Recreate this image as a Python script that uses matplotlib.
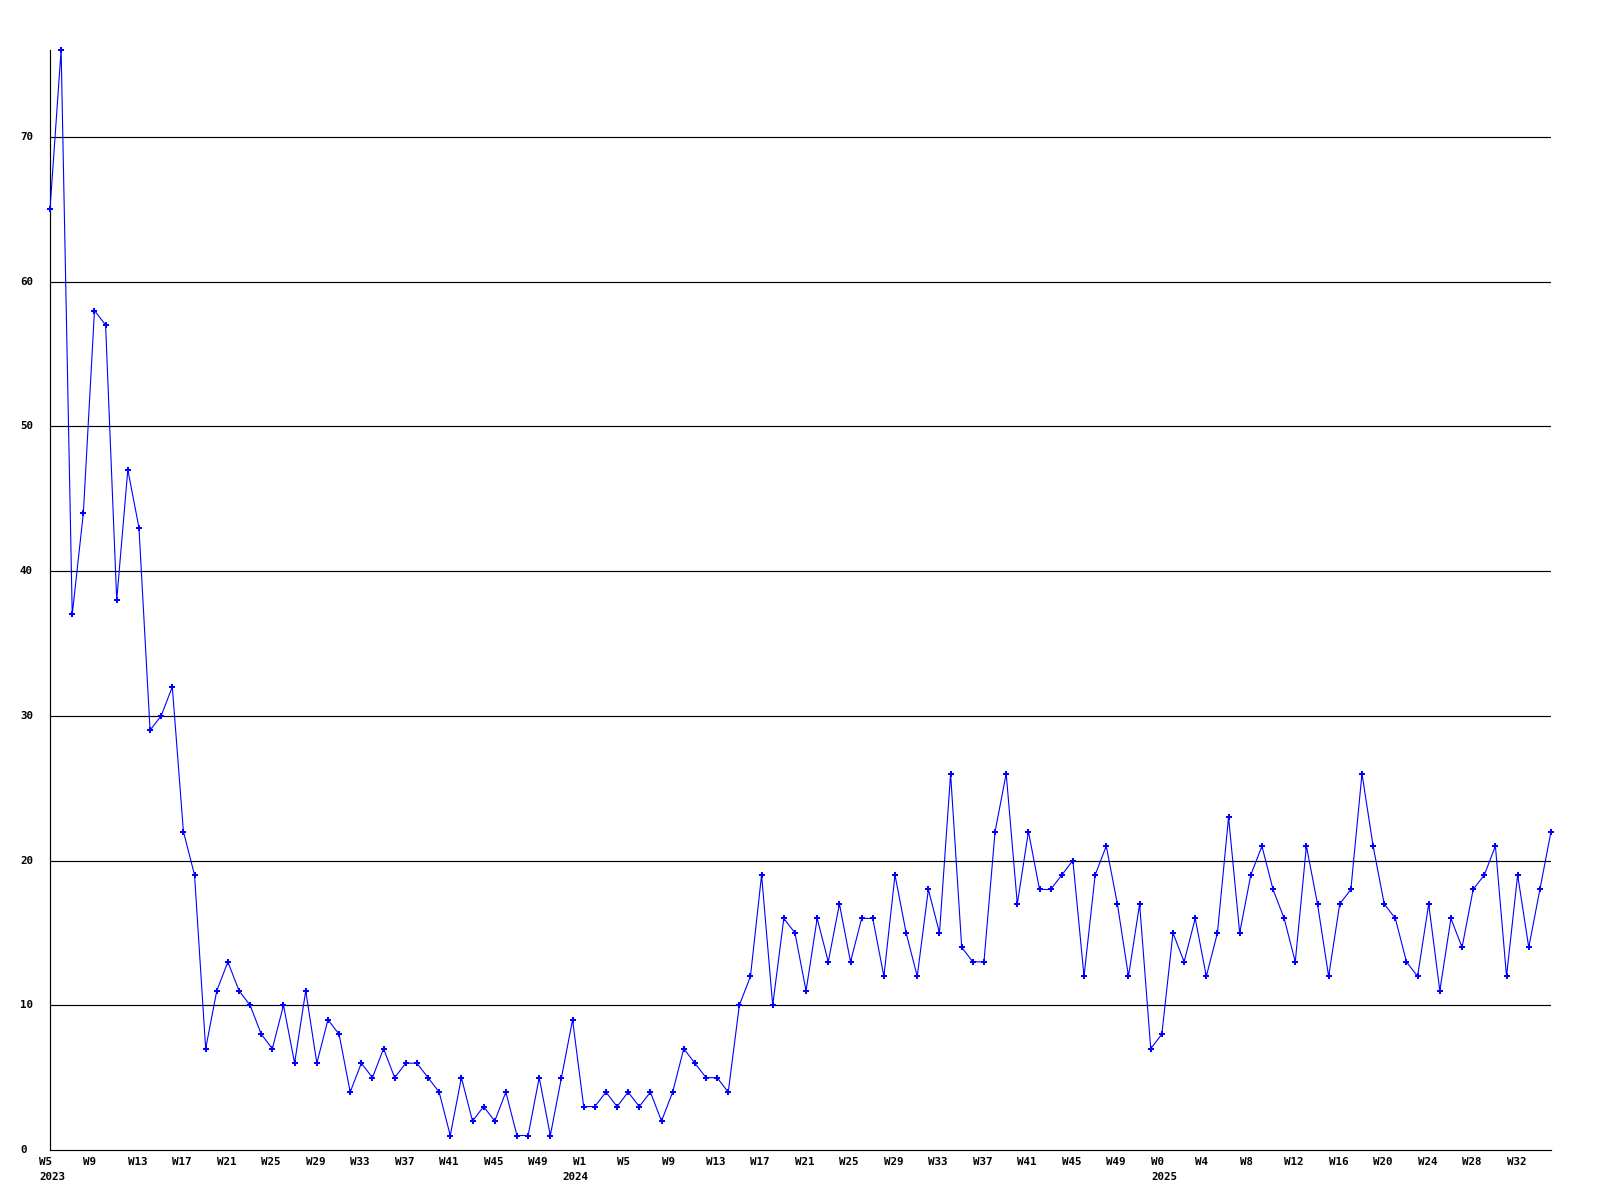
import matplotlib
matplotlib.use('Agg')
import matplotlib.pyplot as plt

# weekly counts, 2023 W5 .. 2025 W35
values = [65, 76, 37, 44, 58, 57, 38, 47, 43, 29,
          30, 32, 22, 19, 7, 11, 13, 11, 10, 8,
          7, 10, 6, 11, 6, 9, 8, 4, 6, 5,
          7, 5, 6, 6, 5, 4, 1, 5, 2, 3,
          2, 4, 1, 1, 5, 1, 5, 9, 3, 3,
          4, 3, 4, 3, 4, 2, 4, 7, 6, 5,
          5, 4, 10, 12, 19, 10, 16, 15, 11, 16,
          13, 17, 13, 16, 16, 12, 19, 15, 12, 18,
          15, 26, 14, 13, 13, 22, 26, 17, 22, 18,
          18, 19, 20, 12, 19, 21, 17, 12, 17, 7,
          8, 15, 13, 16, 12, 15, 23, 15, 19, 21,
          18, 16, 13, 21, 17, 12, 17, 18, 26, 21,
          17, 16, 13, 12, 17, 11, 16, 14, 18, 19,
          21, 12, 19, 14, 18, 22]

# one label every 4th week
week_labels = ['W5', 'W9', 'W13', 'W17', 'W21', 'W25', 'W29', 'W33', 'W37', 'W41', 'W45', 'W49',
               'W1', 'W5', 'W9', 'W13', 'W17', 'W21', 'W25', 'W29', 'W33', 'W37', 'W41', 'W45', 'W49',
               'W0', 'W4', 'W8', 'W12', 'W16', 'W20', 'W24', 'W28', 'W32']
year_labels = ['2023', '2024', '2025']
year_label_pos = [-0.96, 46.1, 99.1]
y_ticks = [0, 10, 20, 30, 40, 50, 60, 70]

font = dict(family='DejaVu Sans Mono', fontweight='bold', fontsize=7.8, color='black')

fig = plt.figure(figsize=(16, 12), dpi=100)
ax = fig.add_axes([50 / 1600, 50 / 1200, 1501 / 1600, 1100 / 1200])

x = list(range(len(values)))
for t in y_ticks[1:]:
    ax.axhline(t, color='black', linewidth=0.85, zorder=1)
ax.plot(x, values, color='#0000ff', linewidth=0.8, marker='P', markersize=4.6,
        markeredgewidth=0, zorder=3, clip_on=False)

ax.set_xlim(0, len(values) - 1)
ax.set_ylim(0, max(values))
ax.set_xticks([])
ax.set_yticks([])
for s in ['top', 'right']:
    ax.spines[s].set_visible(False)
for s in ['left', 'bottom']:
    ax.spines[s].set_color('black')
    ax.spines[s].set_linewidth(0.85)

ytr = ax.get_yaxis_transform()
for t in y_ticks:
    ax.text(-30 / 1501, t, str(t), transform=ytr, ha='left', va='center', **font)

# text starts one week left of the labelled point
xtr = ax.get_xaxis_transform()
for k, lab in enumerate(week_labels):
    ax.text(4 * k - 1, -12 / 1100, lab, transform=xtr, ha='left', va='center', clip_on=False, **font)
for lab, p in zip(year_labels, year_label_pos):
    ax.text(p, -27 / 1100, lab, transform=xtr, ha='left', va='center', clip_on=False, **font)

plt.savefig('out.png', dpi=100)
